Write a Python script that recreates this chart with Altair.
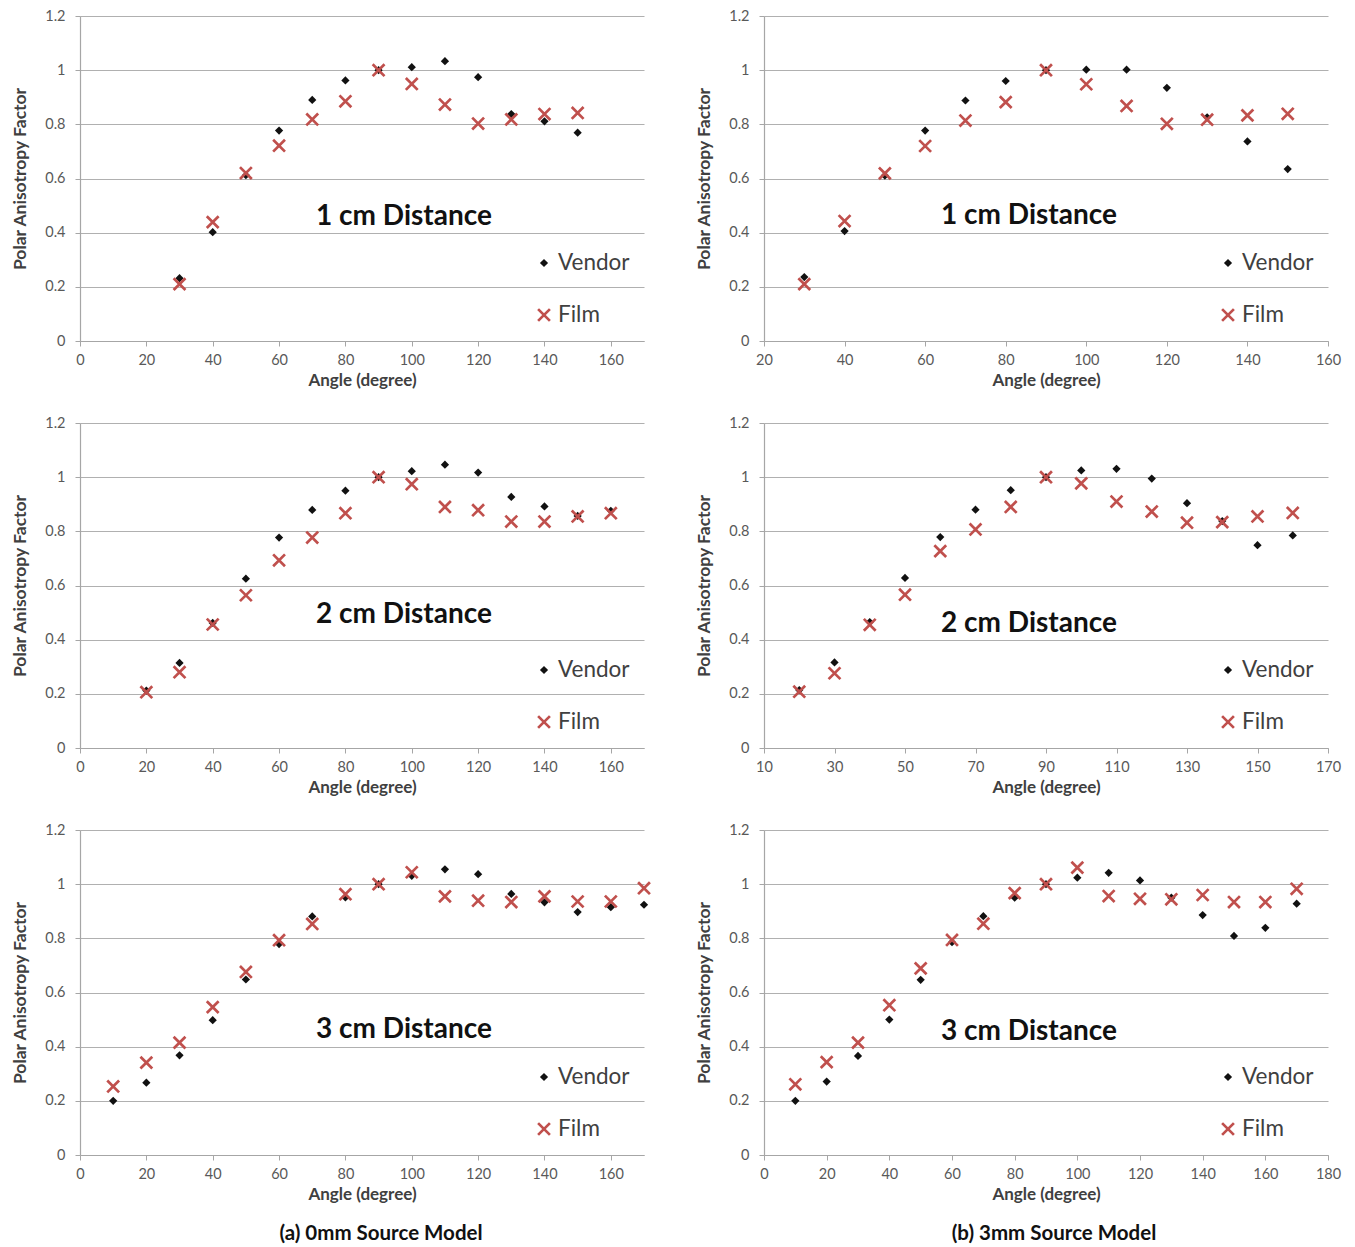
import altair as alt
import pandas as pd

FONT = "Lato"
RED = "#C0504D"
BLACK = "#111111"
XPATH = "M-1,-1L1,1M1,-1L-1,1"

# ---------------- data ----------------
# (a) 0mm source model
a1_angle = [30, 40, 50, 60, 70, 80, 90, 100, 110, 120, 130, 140, 150]
a1_vendor = [0.232, 0.402, 0.612, 0.777, 0.890, 0.962, 1.0, 1.011, 1.033, 0.974, 0.838, 0.811, 0.769]
a1_film = [0.210, 0.439, 0.620, 0.721, 0.818, 0.885, 1.0, 0.949, 0.873, 0.803, 0.818, 0.838, 0.842]

a2_angle = [20, 30, 40, 50, 60, 70, 80, 90, 100, 110, 120, 130, 140, 150, 160]
a2_vendor = [0.212, 0.314, 0.462, 0.625, 0.777, 0.879, 0.950, 1.0, 1.022, 1.046, 1.017, 0.927, 0.892, 0.857, 0.876]
a2_film = [0.206, 0.280, 0.456, 0.564, 0.693, 0.777, 0.867, 1.0, 0.974, 0.890, 0.878, 0.836, 0.836, 0.855, 0.867]

a3_angle = [10, 20, 30, 40, 50, 60, 70, 80, 90, 100, 110, 120, 130, 140, 150, 160, 170]
a3_vendor = [0.200, 0.267, 0.368, 0.498, 0.648, 0.779, 0.881, 0.951, 1.0, 1.031, 1.055, 1.037, 0.964, 0.933, 0.897, 0.915, 0.924]
a3_film = [0.253, 0.341, 0.415, 0.546, 0.676, 0.793, 0.853, 0.963, 1.0, 1.044, 0.955, 0.939, 0.934, 0.955, 0.936, 0.936, 0.985]

# (b) 3mm source model
b1_angle = [30, 40, 50, 60, 70, 80, 90, 100, 110, 120, 130, 140, 150]
b1_vendor = [0.236, 0.406, 0.611, 0.777, 0.888, 0.960, 1.0, 1.002, 1.002, 0.935, 0.826, 0.737, 0.635]
b1_film = [0.210, 0.443, 0.619, 0.720, 0.814, 0.882, 1.0, 0.948, 0.868, 0.802, 0.817, 0.833, 0.839]

b2_angle = [20, 30, 40, 50, 60, 70, 80, 90, 100, 110, 120, 130, 140, 150, 160]
b2_vendor = [0.214, 0.316, 0.465, 0.628, 0.779, 0.880, 0.952, 1.0, 1.025, 1.031, 0.995, 0.904, 0.838, 0.749, 0.785]
b2_film = [0.208, 0.276, 0.455, 0.566, 0.727, 0.807, 0.890, 1.0, 0.977, 0.910, 0.873, 0.832, 0.834, 0.855, 0.868]

b3_angle = [10, 20, 30, 40, 50, 60, 70, 80, 90, 100, 110, 120, 130, 140, 150, 160, 170]
b3_vendor = [0.200, 0.271, 0.366, 0.500, 0.647, 0.786, 0.882, 0.950, 1.0, 1.024, 1.042, 1.014, 0.950, 0.886, 0.809, 0.839, 0.928]
b3_film = [0.261, 0.343, 0.415, 0.553, 0.689, 0.794, 0.854, 0.967, 1.0, 1.061, 0.956, 0.946, 0.944, 0.960, 0.934, 0.934, 0.983]

y_ticks = [0, 0.2, 0.4, 0.6, 0.8, 1.0, 1.2]

W, H = 564, 325


def panel(angles, vendor, film, xdom, xvals, label, title_xy, caption=None, caption_x=None):
    n = len(angles)
    df = pd.DataFrame({
        "angle": angles + angles,
        "value": vendor + film,
        "series": ["Vendor"] * n + ["Film"] * n,
    })
    x = alt.X("angle:Q",
              scale=alt.Scale(domain=xdom, nice=False, zero=False),
              axis=alt.Axis(values=xvals, title="Angle (degree)", grid=False,
                            titleFontSize=17, titlePadding=6))
    y = alt.Y("value:Q",
              scale=alt.Scale(domain=[0, 1.2], nice=False),
              axis=alt.Axis(values=y_ticks, format="~g", title="Polar Anisotropy Factor",
                            grid=True, titleFontSize=17.5, titlePadding=15))
    vend = alt.Chart(df).transform_filter(alt.datum.series == "Vendor").mark_point(
        shape="diamond", filled=True, color=BLACK, size=68, opacity=1
    ).encode(x=x, y=y)
    film_m = alt.Chart(df).transform_filter(alt.datum.series == "Film").mark_point(
        shape=XPATH, filled=False, stroke=RED, strokeWidth=2.7, size=140, opacity=1
    ).encode(x=x, y=y)

    lab = pd.DataFrame({"t": [label]})
    title_t = alt.Chart(lab).mark_text(
        font=FONT, fontSize=28, fontWeight="bold", color="#111111", align="center", baseline="middle"
    ).encode(x=alt.value(title_xy[0]), y=alt.value(title_xy[1]), text="t:N")

    leg_v = pd.DataFrame({"t": ["Vendor"]})
    leg_f = pd.DataFrame({"t": ["Film"]})
    lv_pt = alt.Chart(leg_v).mark_point(shape="diamond", filled=True, color=BLACK, size=68, opacity=1).encode(
        x=alt.value(464), y=alt.value(247))
    lv_tx = alt.Chart(leg_v).mark_text(font=FONT, fontSize=22.5, color="#404040", align="left", baseline="middle").encode(
        x=alt.value(478), y=alt.value(247), text="t:N")
    lf_pt = alt.Chart(leg_f).mark_point(shape=XPATH, filled=False, stroke=RED, strokeWidth=2.7, size=140, opacity=1).encode(
        x=alt.value(464), y=alt.value(299))
    lf_tx = alt.Chart(leg_f).mark_text(font=FONT, fontSize=22.5, color="#404040", align="left", baseline="middle").encode(
        x=alt.value(478), y=alt.value(299), text="t:N")

    layers = [vend, film_m, title_t, lv_pt, lv_tx, lf_pt, lf_tx]
    if caption is not None:
        cap = pd.DataFrame({"t": [caption]})
        layers.append(alt.Chart(cap).mark_text(
            font=FONT, fontSize=20.5, fontWeight="bold", color="#111111", align="center", baseline="middle"
        ).encode(x=alt.value(caption_x), y=alt.value(H + 79), text="t:N"))
    return alt.layer(*layers).properties(width=W, height=H)


xl = [0, 20, 40, 60, 80, 100, 120, 140, 160]

pa1 = panel(a1_angle, a1_vendor, a1_film, [0, 170], xl, "1 cm Distance", (324, 201))
pa2 = panel(a2_angle, a2_vendor, a2_film, [0, 170], xl, "2 cm Distance", (324, 192))
pa3 = panel(a3_angle, a3_vendor, a3_film, [0, 170], xl, "3 cm Distance", (324, 200),
            caption="(a) 0mm Source Model", caption_x=301)
pb1 = panel(b1_angle, b1_vendor, b1_film, [20, 160], [20, 40, 60, 80, 100, 120, 140, 160],
            "1 cm Distance", (265, 200))
pb2 = panel(b2_angle, b2_vendor, b2_film, [10, 170], [10, 30, 50, 70, 90, 110, 130, 150, 170],
            "2 cm Distance", (265, 201))
pb3 = panel(b3_angle, b3_vendor, b3_film, [0, 180], [0, 20, 40, 60, 80, 100, 120, 140, 160, 180],
            "3 cm Distance", (265, 202), caption="(b) 3mm Source Model", caption_x=290)

chart = alt.concat(
    pa1, pb1, pa2, pb2, pa3, pb3,
    columns=2,
    spacing=alt.RowColnumber(row=82, column=120),
    bounds="flush",
).properties(
    padding={"left": 3, "top": 0, "right": 5, "bottom": 5}
).configure_view(stroke=None).configure_axis(
    labelFont=FONT, labelFontSize=14.5, labelColor="#595959",
    titleFont=FONT, titleFontWeight="bold", titleColor="#404040",
    domainColor="#a6a6a6", domainWidth=1.2, tickColor="#a6a6a6", tickSize=5,
    gridColor="#b0b0b0", gridWidth=1.2,
).configure_axisX(labelFlush=False, labelOverlap=False, labelPadding=7).configure_axisY(
    labelOverlap=False, labelPadding=10)

chart.save("out.html", embed_options={"renderer": "svg", "actions": False})
